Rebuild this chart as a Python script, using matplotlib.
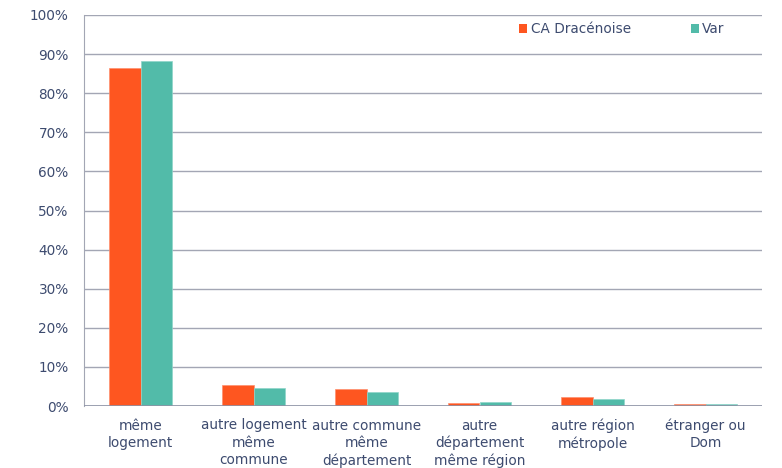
import numpy as np
import matplotlib
matplotlib.use("Agg")
import matplotlib.pyplot as plt
from matplotlib.patches import Patch

# categories and shares (%)
categories = ["même\nlogement", "autre logement\nmême\ncommune", "autre commune\nmême\ndépartement",
              "autre\ndépartement\nmême région", "autre région\nmétropole", "étranger ou\nDom"]
ca_dracenoise = [86.4, 5.4, 4.3, 0.85, 2.2, 0.6]
var = [88.2, 4.7, 3.7, 1.1, 1.7, 0.4]
y_ticks = [0, 10, 20, 30, 40, 50, 60, 70, 80, 90, 100]

orange = "#fe5620"
teal = "#52bba9"
text_color = "#3d4b6f"
grid_color = "#a3a6b4"

plt.rcParams["font.family"] = ["DejaVu Sans"]

fig = plt.figure(figsize=(7.82, 4.68), dpi=100)
ax = fig.add_axes([84 / 782, 1 - 406 / 468, 678 / 782, 391 / 468])

x = np.arange(len(categories))
w = 0.283
ax.bar(x - w / 2, ca_dracenoise, w, color=orange, edgecolor="#ff8f6e", linewidth=0.5, zorder=3)
ax.bar(x + w / 2, var, w, color=teal, edgecolor="#8fd6c9", linewidth=0.5, zorder=3)

ax.set_xlim(-0.5, len(categories) - 0.5)
ax.set_ylim(0, 100)
ax.set_yticks(y_ticks)
ax.set_yticklabels(["{}%".format(t) for t in y_ticks])
ax.set_xticks(x)
ax.set_xticklabels(categories, linespacing=1.3)

ax.yaxis.grid(True, color=grid_color, linewidth=1.0, zorder=0)
ax.set_axisbelow(True)
for side in ["top", "right", "bottom"]:
    ax.spines[side].set_visible(False)
ax.spines["left"].set_color(grid_color)
ax.axhline(0, color="#8e93a6", linewidth=1.2, zorder=4)

ax.tick_params(axis="both", length=0, labelsize=9.8, labelcolor=text_color)
ax.tick_params(axis="y", pad=11)
ax.tick_params(axis="x", pad=9)

handles = [Patch(facecolor=orange, label="CA Dracénoise"),
           Patch(facecolor=teal, label="Var")]
ax.legend(handles=handles, ncol=2, loc="upper right", bbox_to_anchor=(0.963, 1.013),
          frameon=False, handlelength=0.6, handleheight=0.6, handletextpad=0.25,
          columnspacing=4.4, fontsize=9.8, labelcolor=text_color)

fig.savefig("out.png", dpi=100)
